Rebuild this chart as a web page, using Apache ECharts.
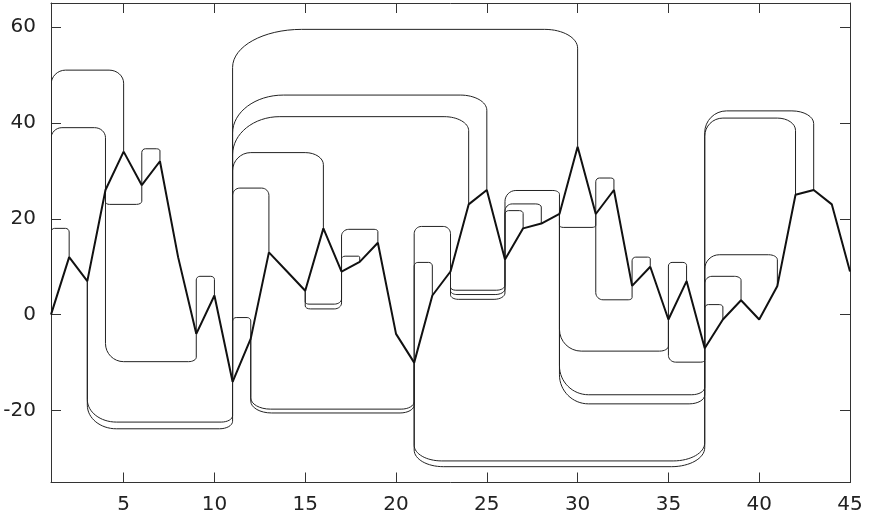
<!DOCTYPE html>
<html>
<head>
<meta charset="utf-8">
<script src="https://cdn.jsdelivr.net/npm/echarts@6/dist/echarts.min.js"></script>
<style>
	html, body { margin: 0; padding: 0; background: #fff; }
	#chart { width: 872px; height: 519px; }
</style>
</head>
<body>
<div id="chart"></div>
<script>
// main polyline
const xValues = [1, 2, 3, 4, 5, 6, 7, 8, 9, 10, 11, 12, 13, 14, 15, 16, 17, 18, 19, 20, 21, 22, 23,
	24, 25, 26, 27, 28, 29, 30, 31, 32, 33, 34, 35, 36, 37, 38, 39, 40, 41, 42, 43, 44, 45]
const yValues = [0, 12, 7, 26, 34, 27, 32, 12, -4, 4, -14, -5, 13, 9, 5, 18, 9, 11, 15, -4, -10, 4, 9,
	23, 26, 11.5, 18, 19, 21, 35, 21, 26, 6, 10, -1, 7, -7, -1, 3, -1, 6, 25, 26, 23, 9]

// brackets: from x, to x, level
const brFrom = [1, 1, 1, 4, 6, 4, 9, 3, 3, 11, 11, 11, 11, 11, 11, 12, 12, 15, 15, 17, 17, 21, 21,
	23, 23, 23, 26, 26, 26, 29, 31, 31, 33, 29, 35, 35, 29, 29, 21, 21, 37, 37, 37, 37, 37]
const brTo = [2, 4, 5, 6, 7, 9, 10, 11, 11, 12, 13, 16, 24, 25, 30, 21, 21, 17, 17, 18, 19, 22, 23,
	26, 26, 26, 27, 28, 29, 31, 32, 33, 34, 35, 36, 37, 37, 37, 37, 37, 38, 39, 41, 42, 43]
const brLevel = [18, 39, 51, 23, 34.6, -9.8, 8, -22.4, -23.8, -0.6, 26.4, 33.8, 41.3, 45.8, 59.5,
	-19.7, -20.5, 2.2, 1.2, 12.2, 17.8, 10.9, 18.4, 5.1, 4.2, 3.2, 21.7, 23.1, 25.9, 18.2, 28.5,
	3.1, 12, -7.6, 10.9, -9.9, -16.7, -18.6, -30.5, -31.7, 2.1, 8, 12.5, 41, 42.5]

const xTicks = [5, 10, 15, 20, 25, 30, 35, 40, 45]
const yTicks = [-20, 0, 20, 40, 60]

const lineData = xValues.map((x, i) => [x, yValues[i]])
const bracketData = brFrom.map((a, i) => {
	const b = brTo[i]
	return [a, b, brLevel[i], yValues[xValues.indexOf(a)], yValues[xValues.indexOf(b)]]
})

const chartInstance = echarts.init(document.getElementById('chart'))

// rounded corner bracket
function renderBracket(params, api) {
	const pA = api.coord([api.value(0), api.value(3)])
	const pL = api.coord([api.value(0), api.value(2)])
	const pB = api.coord([api.value(1), api.value(4)])
	const xa = pA[0], ya = pA[1], yL = pL[1], xb = pB[0], yb = pB[1]
	const w = xb - xa
	const hL = Math.abs(ya - yL), hR = Math.abs(yb - yL)
	const sL = ya > yL ? 1 : -1, sR = yb > yL ? 1 : -1
	const rxL = Math.min(0.28 * hL, 0.2 * w)
	const rxR = Math.min(0.28 * hR, 0.2 * w)
	const ryL = Math.min(0.16 * hL, 38, rxL)
	const ryR = Math.min(0.16 * hR, 38, rxR)
	const k = 0.4477
	const d = 'M' + xa + ',' + ya +
		' L' + xa + ',' + (yL + sL * ryL) +
		' C' + xa + ',' + (yL + sL * ryL * k) + ' ' + (xa + rxL * k) + ',' + yL + ' ' + (xa + rxL) + ',' + yL +
		' L' + (xb - rxR) + ',' + yL +
		' C' + (xb - rxR * k) + ',' + yL + ' ' + xb + ',' + (yL + sR * ryR * k) + ' ' + xb + ',' + (yL + sR * ryR) +
		' L' + xb + ',' + yb
	return {
		type: 'path',
		shape: { pathData: d },
		style: { fill: null, stroke: '#222', lineWidth: 1 },
	}
}

const axisCommon = {
	type: 'value',
	axisLine: { show: true, onZero: false, lineStyle: { color: '#333', width: 1 } },
	axisTick: { show: true, inside: true, length: 10, lineStyle: { color: '#333' } },
	splitLine: { show: false },
}
const labelStyle = { color: '#222', fontSize: 20, fontFamily: 'DejaVu Sans' }

const option = {
	animation: false,
	grid: { left: 51, right: 22, top: 3, bottom: 36.5 },
	xAxis: [
		Object.assign({}, axisCommon, {
			position: 'bottom', min: 1, max: 45, minInterval: 5, maxInterval: 5,
			axisLabel: Object.assign({}, labelStyle, {
				margin: 12,
				formatter: (v) => (xTicks.indexOf(v) >= 0 ? String(v) : ''),
			}),
		}),
		Object.assign({}, axisCommon, {
			position: 'top', min: 1, max: 45, minInterval: 5, maxInterval: 5,
			axisLabel: { show: false },
		}),
	],
	yAxis: [
		Object.assign({}, axisCommon, {
			position: 'left', min: -35, max: 65, minInterval: 20, maxInterval: 20,
			axisLabel: Object.assign({}, labelStyle, {
				margin: 15,
				formatter: (v) => (yTicks.indexOf(v) >= 0 ? String(v) : ''),
			}),
		}),
		Object.assign({}, axisCommon, {
			position: 'right', min: -35, max: 65, minInterval: 20, maxInterval: 20,
			axisLabel: { show: false },
		}),
	],
	series: [
		{
			type: 'custom',
			renderItem: renderBracket,
			data: bracketData,
			encode: { x: [0, 1], y: [2, 3, 4] },
			clip: true,
			z: 2,
		},
		{
			type: 'line',
			data: lineData,
			symbol: 'none',
			lineStyle: { color: '#111', width: 2 },
			z: 3,
		},
	],
}
chartInstance.setOption(option)
</script>
</body>
</html>
